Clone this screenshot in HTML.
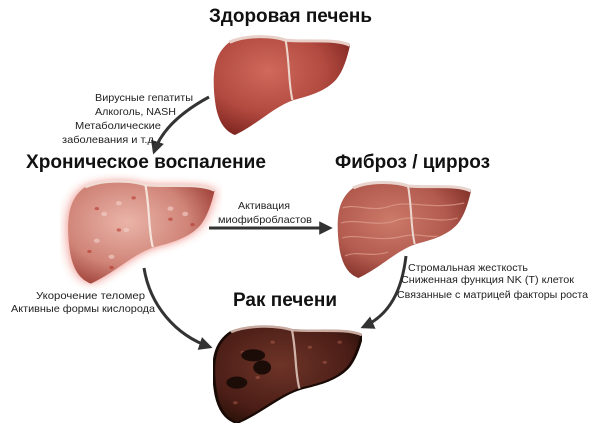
<!DOCTYPE html>
<html><head><meta charset="utf-8"><style>
html,body{margin:0;padding:0;background:#fff;width:600px;height:435px;overflow:hidden}
text{font-family:"Liberation Sans","DejaVu Sans",sans-serif}
</style></head><body>
<svg width="600" height="435" viewBox="0 0 600 435" xmlns="http://www.w3.org/2000/svg">
<defs>
<radialGradient id="gH" cx="40%" cy="35%" r="70%"><stop offset="0" stop-color="#d06a5c"/><stop offset="0.6" stop-color="#b24a40"/><stop offset="1" stop-color="#7e2520"/></radialGradient>
<radialGradient id="gI" cx="40%" cy="40%" r="70%"><stop offset="0" stop-color="#eab4a8"/><stop offset="0.6" stop-color="#d08478"/><stop offset="1" stop-color="#9a3a32"/></radialGradient>
<radialGradient id="gF" cx="40%" cy="40%" r="70%"><stop offset="0" stop-color="#cc7a6a"/><stop offset="0.6" stop-color="#b25a4e"/><stop offset="1" stop-color="#7e2d26"/></radialGradient>
<radialGradient id="gC" cx="45%" cy="40%" r="70%"><stop offset="0" stop-color="#6e3428"/><stop offset="0.7" stop-color="#4a1d16"/><stop offset="1" stop-color="#241008"/></radialGradient>
<filter id="glow" x="-20%" y="-20%" width="140%" height="140%"><feGaussianBlur stdDeviation="4"/></filter>
<marker id="ah" viewBox="0 0 10 10" refX="8" refY="5" markerWidth="4.5" markerHeight="4.5" orient="auto"><path d="M0,0 L10,5 L0,10 Z" fill="#333"/></marker>
<path id="liv" d="M12,10 C25,2 45,4 53,8 C70,10 90,6 100,13 C98,25 95,38 90,46 C82,58 70,62 59,66 C45,72 32,90 16,100 C8,96 4,86 2,72 C0,55 0,40 2,30 C4,20 8,14 12,10 Z"/>
</defs>

<svg x="213" y="32" width="137" height="103" viewBox="0 0 100 100" preserveAspectRatio="none">
<use href="#liv" fill="url(#gH)"/>
<path d="M12,10 C25,2 45,4 53,8 C70,10 90,6 100,13" fill="none" stroke="#e8d0c8" stroke-width="3"/>
<path d="M53,8 C56,30 55,50 58,66" fill="none" stroke="#ecd6cc" stroke-width="1.5"/>
</svg>

<svg x="60" y="170" width="162" height="120" viewBox="-5 -6 110 112" preserveAspectRatio="none">
<use href="#liv" fill="#e03020" filter="url(#glow)" opacity="0.6"/>
<use href="#liv" fill="url(#gI)"/>
<g fill="#f4d4cc" opacity="0.6"><circle cx="25" cy="35" r="2"/><circle cx="40" cy="50" r="2"/><circle cx="70" cy="30" r="2"/><circle cx="20" cy="60" r="2"/><circle cx="80" cy="35" r="2"/><circle cx="35" cy="25" r="2"/><circle cx="30" cy="75" r="2"/></g>
<g fill="#b8362c" opacity="0.6"><circle cx="20" cy="30" r="1.5"/><circle cx="35" cy="50" r="1.5"/><circle cx="70" cy="40" r="1.5"/><circle cx="15" cy="70" r="1.5"/><circle cx="85" cy="45" r="1.5"/><circle cx="45" cy="20" r="1.5"/><circle cx="30" cy="85" r="1.5"/></g>
<path d="M12,10 C25,2 45,4 53,8 C70,10 90,6 100,13" fill="none" stroke="#f0dcd4" stroke-width="2.5"/>
<path d="M53,8 C56,30 55,50 58,66" fill="none" stroke="#f4e4dc" stroke-width="1.5"/>
</svg>

<svg x="337" y="178" width="134" height="100" viewBox="0 0 100 100" preserveAspectRatio="none">
<use href="#liv" fill="url(#gF)"/>
<g fill="none" stroke="#e0a090" stroke-width="1.2" opacity="0.7">
<path d="M4,30 C15,25 25,35 40,28 C55,22 70,32 95,25"/>
<path d="M3,45 C15,40 30,50 45,42 C60,36 75,46 90,40"/>
<path d="M4,60 C15,55 30,65 50,58 C60,55 70,60 75,58"/>
<path d="M6,78 C15,72 25,80 38,74"/>
</g>
<path d="M12,10 C25,2 45,4 53,8 C70,10 90,6 100,13" fill="none" stroke="#e8d4cc" stroke-width="3"/>
<path d="M53,8 C56,30 55,50 58,66" fill="none" stroke="#ecd8d0" stroke-width="1.5"/>
</svg>

<svg x="213" y="322" width="149" height="101" viewBox="0 0 100 100" preserveAspectRatio="none">
<use href="#liv" fill="url(#gC)" stroke="#1a0a06" stroke-width="2"/>
<g fill="#b06050" opacity="0.5"><circle cx="20" cy="30" r="1.5"/><circle cx="30" cy="55" r="1.5"/><circle cx="65" cy="25" r="1.5"/><circle cx="75" cy="40" r="1.5"/><circle cx="85" cy="20" r="1.5"/><circle cx="15" cy="80" r="1.5"/><circle cx="40" cy="20" r="1.5"/></g>
<g fill="#1c0c08"><ellipse cx="27" cy="33" rx="8" ry="6"/><ellipse cx="33" cy="45" rx="6" ry="7"/><ellipse cx="16" cy="60" rx="7" ry="6"/></g>
<path d="M12,10 C25,2 45,4 53,8 C70,10 90,6 100,13" fill="none" stroke="#c8aaa0" stroke-width="2.5"/>
<path d="M53,8 C56,30 55,50 58,66" fill="none" stroke="#d0b4aa" stroke-width="1.5"/>
</svg>

<g fill="none" stroke="#333" stroke-width="3">
<path d="M209,97 C185,110 162,128 154,152" marker-end="url(#ah)"/>
<path d="M209,228 L330,228" marker-end="url(#ah)"/>
<path d="M144,268 C150,305 175,335 210,347" marker-end="url(#ah)"/>
<path d="M406,256 C402,290 390,315 363,327" marker-end="url(#ah)"/>
</g>

<g font-weight="bold" fill="#111" font-size="19">
<text x="209" y="22" textLength="163" lengthAdjust="spacingAndGlyphs">Здоровая печень</text>
<text x="26" y="168" textLength="240" lengthAdjust="spacingAndGlyphs">Хроническое воспаление</text>
<text x="335" y="168" textLength="155" lengthAdjust="spacingAndGlyphs">Фиброз / цирроз</text>
<text x="233" y="306" textLength="104" lengthAdjust="spacingAndGlyphs">Рак печени</text>
</g>

<g font-size="10.5" fill="#222">
<text x="95" y="101" textLength="98" lengthAdjust="spacingAndGlyphs">Вирусные гепатиты</text>
<text x="95" y="115" textLength="81" lengthAdjust="spacingAndGlyphs">Алкоголь, NASH</text>
<text x="75" y="129" textLength="86" lengthAdjust="spacingAndGlyphs">Метаболические</text>
<text x="62" y="143" textLength="95" lengthAdjust="spacingAndGlyphs">заболевания и т.д.</text>
<text x="238" y="209" textLength="52" lengthAdjust="spacingAndGlyphs">Активация</text>
<text x="218" y="223" textLength="94" lengthAdjust="spacingAndGlyphs">миофибробластов</text>
<text x="408" y="271" textLength="120" lengthAdjust="spacingAndGlyphs">Стромальная жесткость</text>
<text x="401" y="283" textLength="173" lengthAdjust="spacingAndGlyphs">Сниженная функция NK (T) клеток</text>
<text x="397" y="298" textLength="191" lengthAdjust="spacingAndGlyphs">Связанные с матрицей факторы роста</text>
<text x="36" y="299" textLength="109" lengthAdjust="spacingAndGlyphs">Укорочение теломер</text>
<text x="11" y="312" textLength="144" lengthAdjust="spacingAndGlyphs">Активные формы кислорода</text>
</g>
</svg>
</body></html>
